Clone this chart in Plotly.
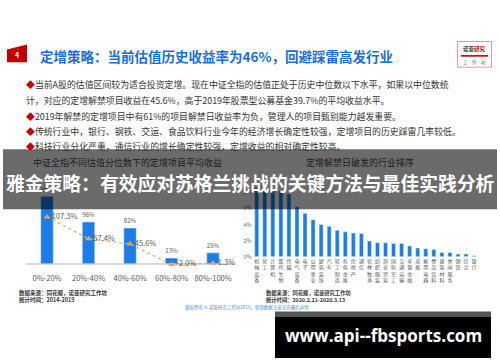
import plotly.graph_objects as go

W, H = 500, 362
FONT = "Noto Sans CJK SC"

# ---------------- data ----------------
left_categories = ["0%-20%", "20%-40%", "40%-60%", "60%-80%", "80%-100%"]
left_bar_values = [155, 96, 82, 13, 25]
left_line_values = [107.3, 57.4, 45.6, -2.0, 1.3]

right_categories = ["机械设备", "化工", "计算机", "医药生物", "传媒", "电气设备", "电子",
                    "公用事业", "建筑装饰", "汽车", "轻工制造", "有色金属", "房地产", "通信",
                    "农林牧渔", "纺织服装", "商业贸易", "国防军工", "交通运输", "非银金融",
                    "采掘", "家用电器", "食品饮料", "建筑材料", "休闲服务", "钢铁", "综合", "银行"]
right_values = [8.6, 8.4, 8.3, 8.2, 7.8, 6.2, 5.4, 4.6, 4.0, 3.8, 3.3, 3.1, 2.95, 2.9,
                1.95, 1.75, 1.75, 1.65, 1.65, 1.35, 1.1, 1.0, 0.9, 0.55, 0.55, 0.35, 0.35, 0.12]
right_yticks = [0, 2, 4, 6, 8]

title_text = "定增策略：当前估值历史收益率为46%，回避踩雷高发行业"
bullet_lines = [
    ("◆", "当前A股的估值区间较为适合投资定增。现在中证全指的估值正处于历史中位数以下水平，如果以中位数统"),
    ("", "计，对应的定增解禁项目收益在45.6%，高于2019年股票型公募基金39.7%的平均收益水平。"),
    ("◆", "2019年解禁的定增项目中有61%的项目解禁日收益率为负，管理人的项目甄别能力越发重要。"),
    ("◆", "传统行业中，银行、钢铁、交运、食品饮料行业今年的经济增长确定性较强，定增项目的历史踩雷几率较低。"),
    ("◆", "科技行业分化严重，通信行业的增长确定性较强，定增收益的相对确定性较高。"),
]
left_title = "中证全指不同估值分位数下的定增项目平均收益"
right_title = "定增解禁日破发的行业排序"
banner_text = "雅金策略：有效应对苏格兰挑战的关键方法与最佳实践分析"
left_source = ["数据来源：同花顺，诺亚研究工作坊", "统计时间：2014-2019"]
right_source = ["数据来源：同花顺，诺亚研究工作坊", "统计时间：2020.2.21-2020.3.13"]
copyright_text = "版权所有 © 诺亚研究工作坊2019，使用数据注意见页最后声明"
watermark_text = "www.api--fbsports.com"


def px(x):
    return x / W


def py(y):
    return 1 - y / H


BLUE = "#1a7ee6"

fig = go.Figure()

fig.add_trace(go.Bar(
    x=left_categories, y=left_bar_values, width=0.3, marker_color=BLUE,
    text=[f"{v:.0f}%" for v in left_bar_values], textposition="outside",
    textfont=dict(size=7.5, color="#595959", family=FONT), cliponaxis=False,
    xaxis="x", yaxis="y",
))
fig.add_trace(go.Scatter(
    x=left_categories, y=left_line_values, mode="lines+markers+text",
    line=dict(color="#f2a45c", width=1.2, dash="dot"),
    marker=dict(symbol="triangle-up", size=6, color="#f0a050"),
    text=[f"{v:.1f}%" for v in left_line_values], textposition="middle right",
    textfont=dict(size=7.5, color="#595959", family=FONT), cliponaxis=False,
    xaxis="x", yaxis="y",
))
fig.add_trace(go.Bar(
    x=right_categories, y=right_values, width=0.5, marker_color=BLUE,
    xaxis="x2", yaxis="y2",
))

# left axes mapping: 0 at y=266.7px, 0.44 px per unit
L0, LK = 266.7, 0.44
LMIN, LMAX = -20, 160
# right axes mapping: 0 at y=259.7px, 8.15 px per unit
R0, RK = 259.7, 8.15
RMIN, RMAX = 0, 10

fig.update_layout(
    width=W, height=H, margin=dict(l=0, r=0, t=0, b=0),
    paper_bgcolor="white", plot_bgcolor="rgba(0,0,0,0)",
    showlegend=False, font=dict(family=FONT),
    xaxis=dict(domain=[px(26.25), px(233.75)], type="category", range=[-0.5, 4.5],
               showgrid=False, showline=False, ticks="",
               tickfont=dict(size=7.5, color="#595959"), anchor="y"),
    yaxis=dict(domain=[py(L0 - LMIN * LK), py(L0 - LMAX * LK)], range=[LMIN, LMAX],
               showgrid=False, showticklabels=False, zeroline=True,
               zerolinecolor="#d9d9d9", zerolinewidth=1.5, anchor="x"),
    xaxis2=dict(domain=[px(252.7), px(478.1)], type="category", range=[-0.5, 27.5],
                showgrid=False, showline=False, ticks="", tickangle=0,
                tickvals=right_categories,
                ticktext=["<br>".join(list(c)) for c in right_categories],
                tickfont=dict(size=5, color="#555555"), anchor="y2"),
    yaxis2=dict(domain=[py(R0 - RMIN * RK), py(R0 - RMAX * RK)], range=[RMIN, RMAX],
                showgrid=False, zeroline=False, tickvals=right_yticks,
                ticktext=[f"{v}%" for v in right_yticks],
                tickfont=dict(size=5.5, color="#666666"), anchor="x2"),
)

shapes = []
ann = []

# header red tab
shapes.append(dict(type="path", xref="paper", yref="paper",
                   path=f"M {px(7)},{py(50)} L {px(27)},{py(45)} L {px(27)},{py(63)} L {px(7)},{py(63)} Z",
                   fillcolor="#c00000", line=dict(width=0)))
ann.append(dict(x=px(17), y=py(56), text="<b>4</b>", font=dict(size=7, color="white")))
ann.append(dict(x=px(38), y=py(56.5), xanchor="left", text=f"<b>{title_text}</b>",
                font=dict(size=13.5, color="#1a6fd6")))

# logo box
shapes.append(dict(type="rect", xref="paper", yref="paper", x0=px(457.5), x1=px(491.5),
                   y0=py(68), y1=py(42), line=dict(color="#d9a0a0", width=1), fillcolor="white"))
shapes.append(dict(type="line", xref="paper", yref="paper", x0=px(461), x1=px(488),
                   y0=py(56.5), y1=py(56.5), line=dict(color="#c00000", width=1.6)))
ann.append(dict(x=px(474.5), y=py(50), text="<b>诺亚<span style='color:#c00000'>研究</span></b>",
                font=dict(size=5.5, color="#333333")))
ann.append(dict(x=px(474.5), y=py(63), text="工　作　坊", font=dict(size=4.5, color="#555555")))

# bullets
line_ys = [85, 101.7, 117.3, 132.7, 148.3]
for (mark, txt), yy in zip(bullet_lines, line_ys):
    t = (f"<span style='color:#c00000'>{mark}</span>" if mark else "") + txt
    ann.append(dict(x=px(24), y=py(yy), xanchor="left", text=t,
                    font=dict(size=8.9, color="#333333")))

# chart titles (seen through banner -> pre-blended dark)
ann.append(dict(x=px(127), y=py(164), text=left_title, font=dict(size=9, color="#1c1c1c")))
ann.append(dict(x=px(360), y=py(164), text=right_title, font=dict(size=9, color="#1c1c1c")))

# banner overlay
shapes.append(dict(type="rect", xref="paper", yref="paper", x0=px(3), x1=px(497),
                   y0=py(211.5), y1=py(151), fillcolor="rgba(0,0,0,0.58)",
                   line=dict(width=0), layer="above"))
ann.append(dict(x=px(250), y=py(185), text=f"<b>{banner_text}</b>",
                font=dict(size=18.8, color="white")))

# sources
for i, s in enumerate(left_source):
    ann.append(dict(x=px(17), y=py(296.7 + i * 6.6), xanchor="left", text=f"<b>{s}</b>",
                    font=dict(size=5.5, color="#333333")))
for i, s in enumerate(right_source):
    ann.append(dict(x=px(264), y=py(296.7 + i * 6.6), xanchor="left", text=f"<b>{s}</b>",
                    font=dict(size=5.3, color="#333333")))
ann.append(dict(x=px(247), y=py(310.5), text=copyright_text, font=dict(size=4.5, color="#3d8fe0")))

# watermark box
shapes.append(dict(type="rect", xref="paper", yref="paper", x0=px(275), x1=px(491),
                   y0=py(320), y1=py(315), fillcolor="#555555", line=dict(width=0), layer="above"))
shapes.append(dict(type="rect", xref="paper", yref="paper", x0=px(275), x1=px(491),
                   y0=py(362), y1=py(320), fillcolor="black", line=dict(width=0), layer="above"))
ann.append(dict(x=px(383), y=py(339), text=f"<b>{watermark_text}</b>",
                font=dict(size=17, color="white", family="Open Sans")))

for a in ann:
    a.setdefault("xref", "paper")
    a.setdefault("yref", "paper")
    a.setdefault("showarrow", False)
    a.setdefault("xanchor", "center")
    a.setdefault("yanchor", "middle")

fig.update_layout(shapes=shapes, annotations=ann)
fig.write_html(
    "out.html",
    config={"displayModeBar": False},
    post_script="document.body.style.margin='0';document.body.style.padding='0';"
                "document.body.style.overflow='hidden';",
)
